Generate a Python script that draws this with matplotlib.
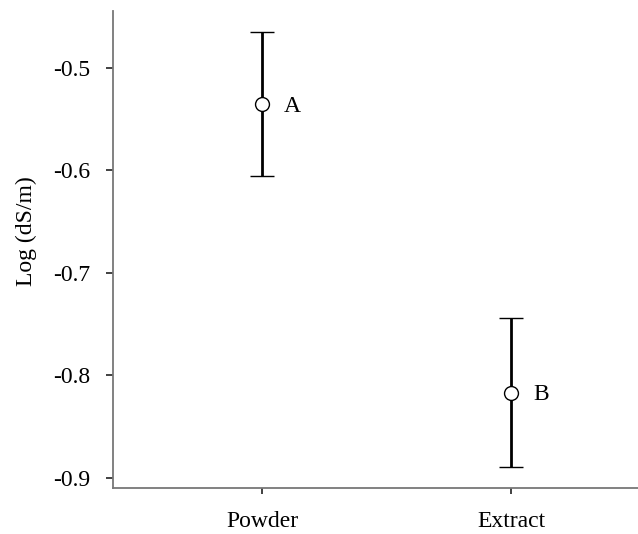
import matplotlib
matplotlib.use("Agg")
import matplotlib.pyplot as plt

categories = ["Powder", "Extract"]
means = [-0.5355, -0.8167]
errors = [0.0700, 0.0722]
letters = ["A", "B"]
yticks = [-0.9, -0.8, -0.7, -0.6, -0.5]
ytick_labels = ["-0.9", "-0.8", "-0.7", "-0.6", "-0.5"]

plt.rcParams["font.family"] = ["Liberation Serif", "DejaVu Serif"]

fig = plt.figure(figsize=(6.38, 5.34), dpi=100)
ax = fig.add_axes([0.1767, 0.0861, 0.8233, 0.8933])

x = list(range(len(categories)))
ax.errorbar(x, means, yerr=errors, fmt="o", color="black", ecolor="black",
            elinewidth=2.0, capsize=8.6, capthick=2.0,
            markersize=10, markerfacecolor="white", markeredgecolor="black",
            markeredgewidth=1.0, zorder=3)

for xi, m, lab in zip(x, means, letters):
    ax.annotate(lab, (xi, m), xytext=(22, -2), textcoords="offset pixels",
                ha="left", va="center", fontsize=17)

ax.set_xlim(-0.6, 1.51)
ax.set_ylim(-0.9098, -0.4447)
ax.set_xticks(x)
ax.set_xticklabels(categories, fontsize=17)
ax.set_yticks(yticks)
ax.set_yticklabels(ytick_labels, fontsize=17)

for s in ["top", "right"]:
    ax.spines[s].set_visible(False)
for s in ["left", "bottom"]:
    ax.spines[s].set_color("#777777")
    ax.spines[s].set_linewidth(1.3)

ax.tick_params(axis="y", length=5, width=1.3, color="#333333", pad=11, direction="out")
ax.tick_params(axis="x", length=4.5, width=1.3, color="#333333", pad=12, direction="out")

ax.set_ylabel("Log (dS/m)", fontsize=17)
ax.yaxis.set_label_coords(-0.145, 0.539)

fig.savefig("out.png", dpi=100)
